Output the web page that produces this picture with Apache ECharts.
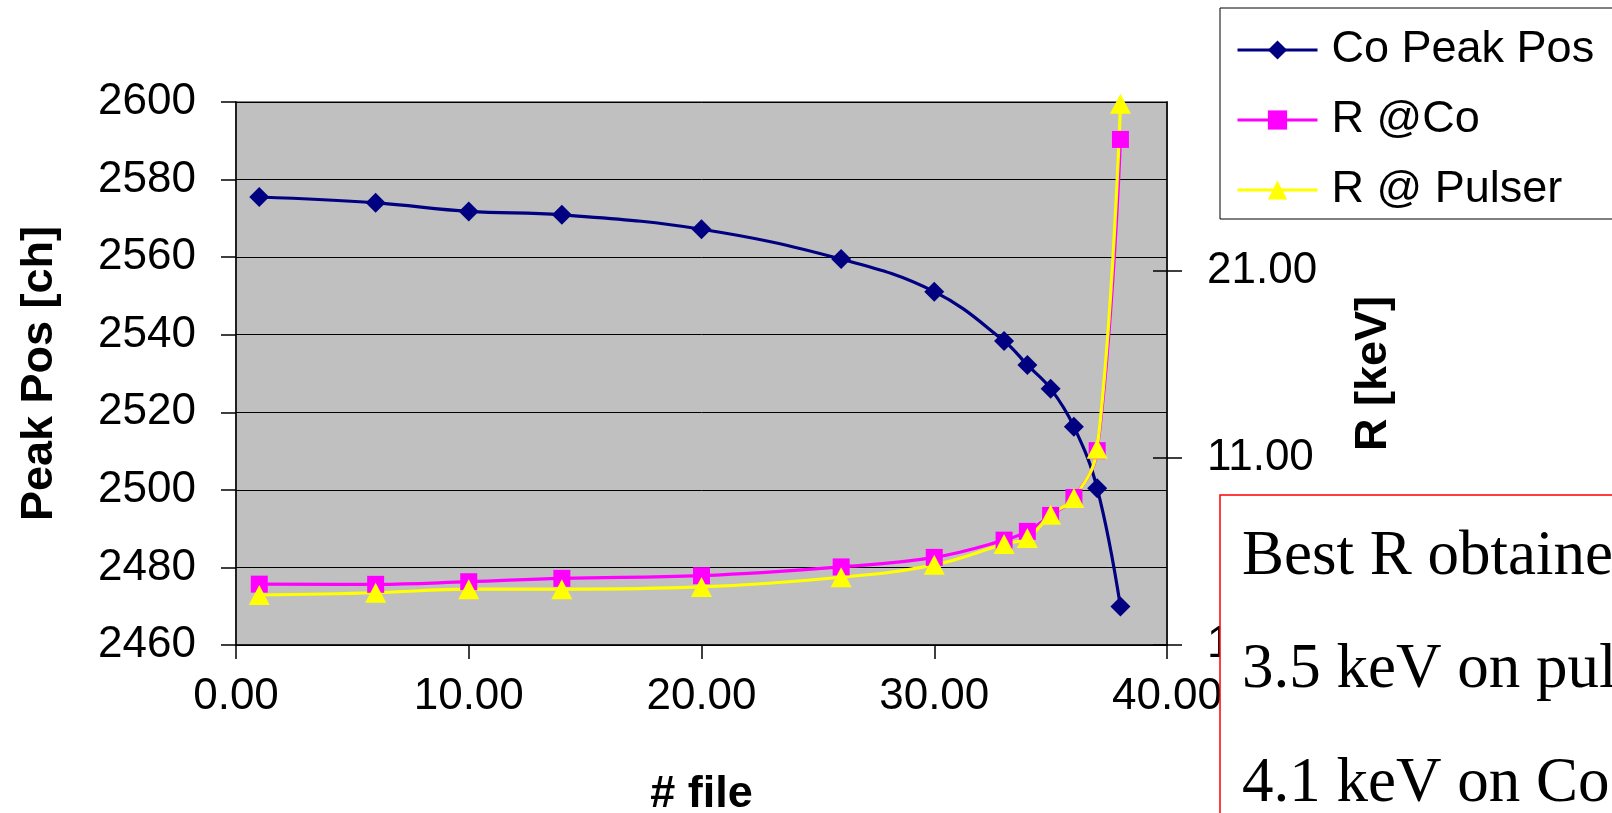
<!DOCTYPE html>
<html>
<head>
<meta charset="utf-8">
<script src="https://cdn.jsdelivr.net/npm/echarts@6/dist/echarts.min.js"></script>
<style>
  html, body { margin: 0; padding: 0; background: #fff; }
  #chart { width: 1612px; height: 813px; }
</style>
</head>
<body>
<div id="chart"></div>
<script>
// File numbers of the measurements
const fileNo = [1, 6, 10, 14, 20, 26, 30, 33, 34, 35, 36, 37, 38];
// Co peak position [ch] (left axis)
const coPeakPos = [2575.5, 2574.0, 2571.8, 2570.9, 2567.2, 2559.5, 2551.1, 2538.4, 2532.2, 2526.1, 2516.3, 2500.4, 2469.9];
// Resolution at the Co line [keV] (right axis)
const rAtCo = [4.25, 4.24, 4.38, 4.56, 4.70, 5.17, 5.68, 6.60, 7.07, 7.92, 8.88, 11.38, 28.0];
// Resolution at the pulser [keV] (right axis)
const rAtPulser = [3.67, 3.79, 3.98, 3.98, 4.10, 4.62, 5.28, 6.39, 6.72, 7.95, 8.85, 11.48, 29.9];

const seriesNames = ['Co Peak Pos', 'R @Co', 'R @ Pulser'];
const rTicks = [1, 11, 21];
const noteLines = ['Best R obtained:', '3.5 keV on pulser', '4.1 keV on Co'];

const pairs = (xs, ys) => xs.map((x, i) => [x, ys[i]]);

const SANS = 'Liberation Sans';
const labelFont = { fontFamily: SANS, fontSize: 44, color: '#000' };
const titleFont = { fontFamily: SANS, fontSize: 45, fontWeight: 'bold', color: '#000' };

const chart = echarts.init(document.getElementById('chart'), null, { renderer: 'canvas' });

chart.setOption({
  animation: false,
  backgroundColor: '#ffffff',
  grid: {
    left: 236, top: 102, width: 931, height: 543,
    containLabel: false, outerBoundsMode: 'none',
    show: true, backgroundColor: '#C0C0C0', borderColor: '#808080', borderWidth: 2
  },
  legend: {
    orient: 'vertical',
    left: 1220, top: 8,
    padding: [18, 60, 5, 16],
    itemWidth: 80, itemHeight: 24, itemGap: 22,
    backgroundColor: '#ffffff',
    borderColor: '#000', borderWidth: 1,
    lineStyle: { width: 3 },
    textStyle: { fontFamily: SANS, fontSize: 45, color: '#000', lineHeight: 48, padding: [0, 0, 0, 9] },
    data: seriesNames
  },
  xAxis: {
    type: 'value', min: 0, max: 40, interval: 10,
    name: '# file', nameLocation: 'middle', nameGap: 127,
    nameTextStyle: titleFont,
    axisLine: { show: true, lineStyle: { color: '#000', width: 1.5 } },
    axisTick: { show: true, inside: false, length: 14, lineStyle: { color: '#000', width: 1.5 } },
    axisLabel: Object.assign({ margin: 30, formatter: v => v.toFixed(2) }, labelFont),
    splitLine: { show: false }
  },
  yAxis: [
    {
      type: 'value', position: 'left', min: 2460, max: 2600, interval: 20,
      name: 'Peak Pos [ch]', nameLocation: 'middle', nameGap: 174,
      nameTextStyle: titleFont,
      axisLine: { show: true, lineStyle: { color: '#000', width: 1.5 } },
      axisTick: { show: true, inside: false, length: 15, lineStyle: { color: '#000', width: 1.5 } },
      axisLabel: Object.assign({ margin: 40, formatter: v => String(v) }, labelFont),
      splitLine: { show: true, lineStyle: { color: '#000', width: 1 } }
    },
    {
      type: 'value', position: 'right', min: 1, max: 30,
      name: 'R [keV]', nameLocation: 'middle', nameGap: 184,
      nameTextStyle: titleFont,
      axisLine: { show: true, lineStyle: { color: '#000', width: 1.5 } },
      axisTick: { show: true, inside: false, length: 15, customValues: rTicks, lineStyle: { color: '#000', width: 1.5 } },
      axisLabel: Object.assign({ margin: 40, customValues: rTicks, formatter: v => v.toFixed(2) }, labelFont),
      splitLine: { show: false }
    },
    {
      // inner half of the crossing ticks on the right axis
      type: 'value', position: 'right', min: 1, max: 30,
      axisLine: { show: false },
      axisTick: { show: true, inside: true, length: 14, customValues: rTicks, lineStyle: { color: '#000', width: 1.5 } },
      axisLabel: { show: false },
      splitLine: { show: false }
    }
  ],
  series: [
    {
      name: seriesNames[0], type: 'line', yAxisIndex: 0,
      data: pairs(fileNo, coPeakPos),
      smooth: 0.4,
      symbol: 'diamond', symbolSize: 20,
      lineStyle: { color: '#000080', width: 3.2 },
      itemStyle: { color: '#000080' }
    },
    {
      name: seriesNames[1], type: 'line', yAxisIndex: 1,
      data: pairs(fileNo, rAtCo),
      smooth: 0.4,
      symbol: 'rect', symbolSize: 17,
      lineStyle: { color: '#FF00FF', width: 3.2 },
      itemStyle: { color: '#FF00FF' }
    },
    {
      name: seriesNames[2], type: 'line', yAxisIndex: 1,
      data: pairs(fileNo, rAtPulser),
      smooth: 0.4,
      symbol: 'triangle', symbolSize: [21, 20],
      lineStyle: { color: '#FFFF00', width: 3.2 },
      itemStyle: { color: '#FFFF00' }
    }
  ],
  graphic: [
    {
      type: 'rect', z: 100,
      shape: { x: 1220, y: 495, width: 500, height: 400 },
      style: { fill: '#ffffff', stroke: '#FF0000', lineWidth: 1.5 }
    }
  ].concat(noteLines.map((t, i) => ({
    type: 'text', z: 101,
    x: 1242, y: 557 + i * 113.7,
    style: {
      text: t, fill: '#000',
      font: '63px "Liberation Serif"',
      textAlign: 'left', textVerticalAlign: 'middle', verticalAlign: 'middle'
    }
  })))
});
</script>
</body>
</html>
